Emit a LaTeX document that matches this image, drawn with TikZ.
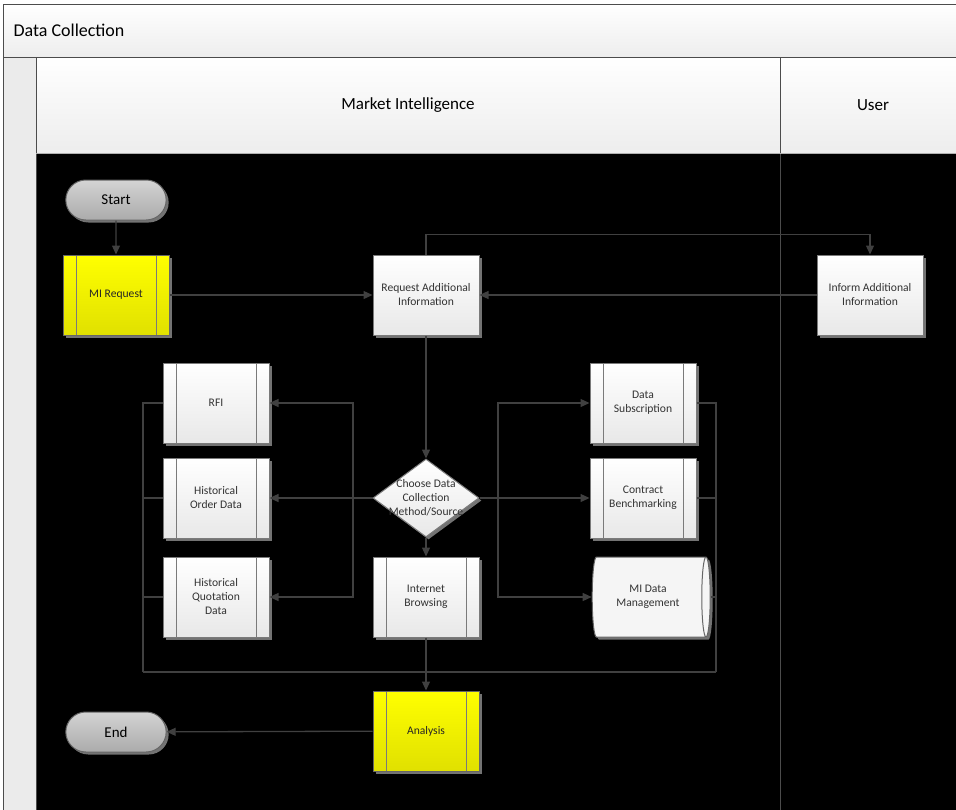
\documentclass[tikz,border=0pt]{standalone}
\usepackage{fontspec}
\setmainfont{Carlito}
\usetikzlibrary{arrows.meta,shapes.geometric,shapes.misc,shadows}
\definecolor{lineclr}{HTML}{404040}
\definecolor{edgeclr}{HTML}{7A7A7A}
\begin{document}
\begin{tikzpicture}[x=1pt,y=-1pt,>={Triangle[length=9pt,width=8pt]},
    line/.style={draw=lineclr,line width=1.3pt},
    shd/.style={drop shadow={shadow xshift=2.5pt,shadow yshift=-2.5pt,fill=black!55,opacity=1}},
    proc/.style={shd,rectangle,top color=white,bottom color=black!9,draw=edgeclr,line width=1pt,
        minimum width=106pt,minimum height=80pt,align=center,text=black!80,
        font=\fontsize{11.6}{14}\selectfont},
    predef/.style={proc,path picture={
        \draw[edgeclr,line width=1pt]
            ([xshift=13pt]path picture bounding box.north west)--([xshift=13pt]path picture bounding box.south west)
            ([xshift=-13pt]path picture bounding box.north east)--([xshift=-13pt]path picture bounding box.south east);}},
    ypredef/.style={predef,top color=yellow,bottom color=yellow!88!black,draw=black!60,text=black!85},
    term/.style={shd,rounded rectangle,minimum width=107pt,minimum height=40pt,top color=black!17,
        bottom color=black!33,draw=black!60,line width=1pt,font=\fontsize{15}{18}\selectfont},
    decide/.style={shd,diamond,minimum width=106pt,minimum height=78pt,inner sep=0pt,
        top color=white,bottom color=black!9,draw=edgeclr,line width=1pt},
    store/.style={shd,cylinder,aspect=0.28,minimum width=80pt,minimum height=118pt,
        fill=black!4,draw=black!60,line width=1pt,align=center,text=black!80,
        font=\fontsize{11.6}{14}\selectfont}]
\useasboundingbox (0,0) rectangle (956,809);

\begin{scope}
\clip (0,0) rectangle (956,809);
\fill[black] (36,153) rectangle (962,815);
\shade[top color=white,bottom color=black!7] (3,4) rectangle (962,57);
\shade[top color=white,bottom color=black!7] (36,57) rectangle (962,153);
\fill[black!8] (3,57) rectangle (36,815);
\draw[black!70,line width=1pt] (962,4)--(3,4)--(3,815) (3,57)--(962,57) (36,57)--(36,815)
    (780,57)--(780,815);
\draw[black!30,line width=1pt] (36,153)--(962,153);
\end{scope}
\node[anchor=west,font=\fontsize{18}{21}\selectfont] at (10,30) {Data Collection};
\node[font=\fontsize{17}{20}\selectfont] at (408,105) {Market Intelligence};
\node[font=\fontsize{17}{20}\selectfont] at (873,105) {User};

\node[term] (start) at (116,200) {Start};
\node[ypredef] (mireq) at (116,295) {MI Request};
\node[proc] (reqinfo) at (426,295) {Request Additional\\Information};
\node[proc] (inform) at (870,295) {Inform Additional\\Information};
\node[predef] (rfi) at (216,403) {RFI};
\node[predef] (order) at (216,498) {Historical\\Order Data};
\node[predef] (quote) at (216,597) {Historical\\Quotation\\Data};
\node[decide,label={[align=center,text=black!80,font=\fontsize{11.6}{14}\selectfont]center:Choose Data\\Collection\\Method/Source}]
    (choose) at (426,498) {};
\node[predef] (browse) at (426,597) {Internet\\Browsing};
\node[predef] (subscr) at (643,403) {Data\\Subscription};
\node[predef] (bench) at (643,498) {Contract\\Benchmarking};
\node[store] (midata) at (648,597) {MI Data\\Management};
\node[ypredef] (analysis) at (426,731) {Analysis};
\node[term] (end) at (116,732) {End};

\coordinate (lsplit) at (353,498);
\coordinate (rsplit) at (498,498);
\coordinate (lcol) at (143,672);
\coordinate (rcol) at (716,672);

\draw[line,->] (start) -- (mireq);
\draw[line,->] (mireq) -- (reqinfo);
\draw[line,->] (inform) -- (reqinfo);
\draw[line,->] (reqinfo.north) -- ++(0,-20) -| (inform.north);
\draw[line,->] (reqinfo) -- (choose);
\draw[line,->] (choose) -- (browse);
\draw[line,->] (choose) -- (order);
\draw[line,->] (choose) -- (bench);
\foreach \n in {rfi,quote}
    \draw[line,->] (lsplit) |- (\n);
\foreach \n in {subscr,midata}
    \draw[line,->] (rsplit) |- (\n);
\foreach \n in {rfi,order,quote}
    \draw[line] (\n.west) -| (lcol);
\foreach \n in {subscr,bench,midata}
    \draw[line] (\n.east) -| (rcol);
\draw[line] (lcol) -- (rcol);
\draw[line,->] (browse) -- (analysis);
\draw[line,->] (analysis) -- (end);
\end{tikzpicture}
\end{document}
